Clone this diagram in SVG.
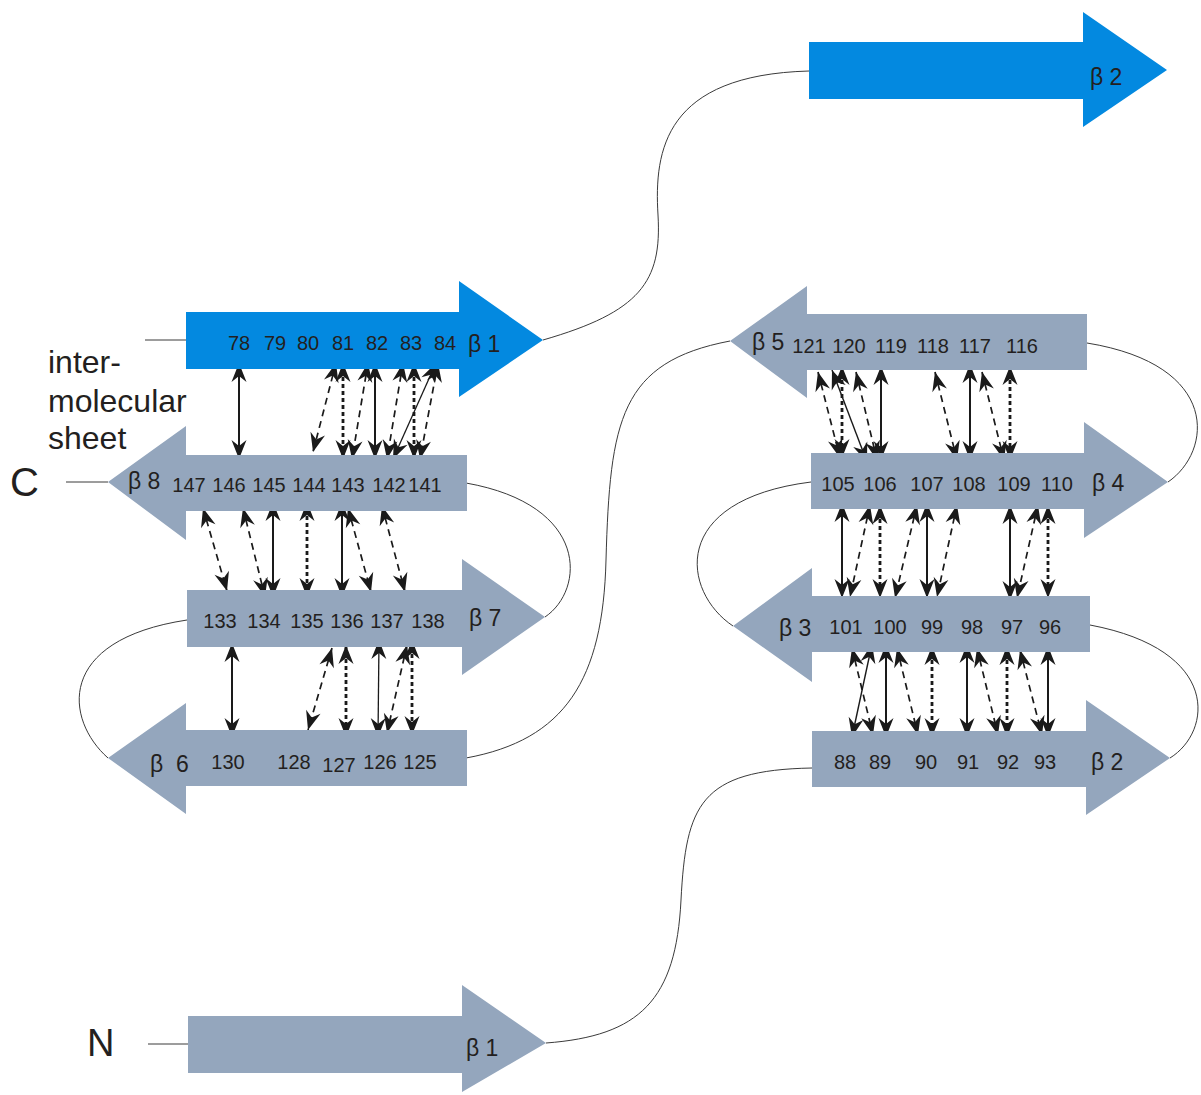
<svg xmlns="http://www.w3.org/2000/svg" width="1201" height="1095" viewBox="0 0 1201 1095">
  <style>
    .blue { fill: #0389e0; }
    .grey { fill: #94a6bd; }
    .num { font-family: "Liberation Sans", Arial, sans-serif; font-size: 20px; fill: #231f20; text-anchor: middle; }
    .lab { font-family: "Liberation Sans", Arial, sans-serif; font-size: 23px; fill: #231f20; }
    .big { font-family: "Liberation Sans", Arial, sans-serif; fill: #231f20; }
    .loop { fill: none; stroke: #3a3a3a; stroke-width: 1; }
    .hb { stroke: #1a1a1a; fill: none; marker-start: url(#ah); marker-end: url(#ah); }
    .solid { stroke-width: 2; }
    .dash { stroke-width: 1.7; stroke-dasharray: 7 5; }
    .dot { stroke-width: 2.8; stroke-dasharray: 4 3; }
  </style>
  <defs>
    <!-- swept arrowhead used on both ends of each H-bond -->
    <marker id="ah" markerWidth="22" markerHeight="18" refX="20" refY="9" markerUnits="userSpaceOnUse" orient="auto-start-reverse" overflow="visible">
      <path d="M20,9 L1,1.5 L7,9 L1,16.5 Z" fill="#1a1a1a"/>
    </marker>
  </defs>
  <rect width="1201" height="1095" fill="#ffffff"/>

  <!-- thin backbone loops and termini -->
  <g id="connectors">
    <path class="loop" d="M145,340 L186,340"/>
    <path class="loop" d="M66,482 L108,482"/>
    <path class="loop" d="M148,1044 L188,1044"/>
    <path class="loop" d="M543,340 C640,312 662,282 658,215 C654,150 665,75 809,71"/>
    <path class="loop" d="M466,483 C590,505 585,590 545,617"/>
    <path class="loop" d="M187,620 C55,640 65,720 108,758"/>
    <path class="loop" d="M466,758 C565,740 603,680 606,560 C610,420 620,362 730,341"/>
    <path class="loop" d="M1087,343 C1222,365 1212,452 1168,482"/>
    <path class="loop" d="M811,482 C668,500 682,592 733,626"/>
    <path class="loop" d="M1090,625 C1222,650 1212,732 1170,758"/>
    <path class="loop" d="M812,768 C700,770 686,805 681,900 C676,1000 640,1036 546,1043"/>

    <!-- beta1' / beta8 -->
    <line class="hb solid" x1="239" y1="363" x2="239" y2="459"/>
    <line class="hb dash" x1="336" y1="363" x2="313" y2="452"/>
    <line class="hb dot" x1="343" y1="363" x2="343" y2="459"/>
    <line class="hb dash" x1="368" y1="363" x2="352" y2="459"/>
    <line class="hb solid" x1="375" y1="363" x2="375" y2="459"/>
    <line class="hb dash" x1="403" y1="363" x2="387" y2="459"/>
    <line class="hb solid" x1="436" y1="363" x2="393" y2="459" style="stroke-width:1.3"/>
    <line class="hb dot" x1="414" y1="363" x2="414" y2="459"/>
    <line class="hb dash" x1="438" y1="363" x2="420" y2="459"/>

    <!-- beta8 / beta7 -->
    <line class="hb dash" x1="203" y1="508" x2="227" y2="591"/>
    <line class="hb dash" x1="243" y1="508" x2="265" y2="597"/>
    <line class="hb solid" x1="273" y1="502" x2="273" y2="597"/>
    <line class="hb dot" x1="307" y1="502" x2="307" y2="597"/>
    <line class="hb solid" x1="342" y1="502" x2="342" y2="597"/>
    <line class="hb dash" x1="348" y1="508" x2="371" y2="592"/>
    <line class="hb dash" x1="382" y1="506" x2="405" y2="592"/>

    <!-- beta7 / beta6 -->
    <line class="hb solid" x1="232" y1="643" x2="232" y2="737"/>
    <line class="hb dash" x1="332" y1="648" x2="308" y2="730"/>
    <line class="hb dot" x1="346" y1="645" x2="346" y2="737"/>
    <line class="hb solid" x1="379" y1="640" x2="378" y2="737" style="stroke-width:1.3"/>
    <line class="hb dash" x1="407" y1="645" x2="387" y2="733"/>
    <line class="hb dot" x1="412" y1="640" x2="412" y2="735"/>

    <!-- beta5 / beta4 -->
    <line class="hb dash" x1="818" y1="372" x2="840" y2="458"/>
    <line class="hb dot" x1="842" y1="366" x2="842" y2="458"/>
    <line class="hb solid" x1="832" y1="370" x2="867" y2="462" style="stroke-width:1.4"/>
    <line class="hb dash" x1="856" y1="372" x2="877" y2="460"/>
    <line class="hb solid" x1="881" y1="366" x2="881" y2="460"/>
    <line class="hb dash" x1="935" y1="372" x2="957" y2="460"/>
    <line class="hb solid" x1="970" y1="364" x2="970" y2="460"/>
    <line class="hb dash" x1="982" y1="372" x2="1004" y2="460"/>
    <line class="hb dot" x1="1010" y1="366" x2="1010" y2="460"/>

    <!-- beta4 / beta3 -->
    <line class="hb solid" x1="842" y1="503" x2="842" y2="598"/>
    <line class="hb dash" x1="870" y1="505" x2="850" y2="597"/>
    <line class="hb dot" x1="880" y1="505" x2="880" y2="598"/>
    <line class="hb dash" x1="917" y1="505" x2="895" y2="598"/>
    <line class="hb solid" x1="927" y1="503" x2="927" y2="598"/>
    <line class="hb dash" x1="957" y1="505" x2="937" y2="597"/>
    <line class="hb solid" x1="1010" y1="505" x2="1010" y2="600"/>
    <line class="hb dash" x1="1038" y1="505" x2="1017" y2="598"/>
    <line class="hb dot" x1="1048" y1="505" x2="1048" y2="598"/>

    <!-- beta3 / beta2 -->
    <line class="hb dash" x1="852" y1="648" x2="873" y2="735"/>
    <line class="hb solid" x1="872" y1="644" x2="852" y2="737" style="stroke-width:1.4"/>
    <line class="hb solid" x1="886" y1="644" x2="886" y2="737"/>
    <line class="hb dash" x1="897" y1="648" x2="918" y2="735"/>
    <line class="hb dot" x1="932" y1="646" x2="932" y2="737"/>
    <line class="hb solid" x1="967" y1="644" x2="967" y2="737"/>
    <line class="hb dash" x1="977" y1="648" x2="998" y2="735"/>
    <line class="hb dot" x1="1007" y1="646" x2="1007" y2="737"/>
    <line class="hb dash" x1="1020" y1="650" x2="1042" y2="735"/>
    <line class="hb solid" x1="1048" y1="646" x2="1048" y2="737"/>
  </g>

  <!-- second molecule strand beta2 (top) -->
  <g id="strand-b2-top">
    <path class="blue" d="M809,42 L1083,42 L1083,12 L1167,70 L1083,127 L1083,99 L809,99 Z"/>
    <text class="lab" x="1090" y="85">β 2</text>
  </g>

  <!-- second molecule strand beta1 -->
  <g id="strand-b1-top">
    <path class="blue" d="M186,312 L459,312 L459,281 L543,340 L459,397 L459,369 L186,369 Z"/>
    <text class="num" x="239" y="350">78</text>
    <text class="num" x="275" y="350">79</text>
    <text class="num" x="308" y="350">80</text>
    <text class="num" x="343" y="350">81</text>
    <text class="num" x="377" y="350">82</text>
    <text class="num" x="411" y="350">83</text>
    <text class="num" x="445" y="350">84</text>
    <text class="lab" x="468" y="352">β 1</text>
  </g>

  <g id="strand-b8">
    <path class="grey" d="M467,455 L186,455 L186,426 L108,482 L186,540 L186,511 L467,511 Z"/>
    <text class="lab" x="128" y="489">β 8</text>
    <text class="num" x="189" y="492">147</text>
    <text class="num" x="229" y="492">146</text>
    <text class="num" x="269" y="492">145</text>
    <text class="num" x="309" y="492">144</text>
    <text class="num" x="348" y="492">143</text>
    <text class="num" x="389" y="492">142</text>
    <text class="num" x="425" y="492">141</text>
  </g>

  <g id="strand-b7">
    <path class="grey" d="M187,590 L462,590 L462,559 L545,617 L462,675 L462,647 L187,647 Z"/>
    <text class="num" x="220" y="628">133</text>
    <text class="num" x="264" y="628">134</text>
    <text class="num" x="307" y="628">135</text>
    <text class="num" x="347" y="628">136</text>
    <text class="num" x="387" y="628">137</text>
    <text class="num" x="428" y="628">138</text>
    <text class="lab" x="469" y="626">β 7</text>
  </g>

  <g id="strand-b6">
    <path class="grey" d="M467,730 L186,730 L186,703 L108,758 L186,814 L186,786 L467,786 Z"/>
    <text class="lab" x="150" y="772" xml:space="preserve">β  6</text>
    <text class="num" x="228" y="769">130</text>
    <text class="num" x="294" y="769">128</text>
    <text class="num" x="339" y="772">127</text>
    <text class="num" x="380" y="769">126</text>
    <text class="num" x="420" y="769">125</text>
  </g>

  <g id="strand-b5">
    <path class="grey" d="M1087,314 L807,314 L807,286 L730,341 L807,398 L807,370 L1087,370 Z"/>
    <text class="lab" x="752" y="350">β 5</text>
    <text class="num" x="809" y="353">121</text>
    <text class="num" x="849" y="353">120</text>
    <text class="num" x="891" y="353">119</text>
    <text class="num" x="933" y="353">118</text>
    <text class="num" x="975" y="353">117</text>
    <text class="num" x="1022" y="353">116</text>
  </g>

  <g id="strand-b4">
    <path class="grey" d="M811,453 L1084,453 L1084,422 L1168,482 L1084,538 L1084,509 L811,509 Z"/>
    <text class="num" x="838" y="491">105</text>
    <text class="num" x="880" y="491">106</text>
    <text class="num" x="927" y="491">107</text>
    <text class="num" x="969" y="491">108</text>
    <text class="num" x="1014" y="491">109</text>
    <text class="num" x="1057" y="491">110</text>
    <text class="lab" x="1092" y="491">β 4</text>
  </g>

  <g id="strand-b3">
    <path class="grey" d="M1090,596 L812,596 L812,568 L733,626 L812,682 L812,652 L1090,652 Z"/>
    <text class="lab" x="779" y="636">β 3</text>
    <text class="num" x="846" y="634">101</text>
    <text class="num" x="890" y="634">100</text>
    <text class="num" x="932" y="634">99</text>
    <text class="num" x="972" y="634">98</text>
    <text class="num" x="1012" y="634">97</text>
    <text class="num" x="1050" y="634">96</text>
  </g>

  <g id="strand-b2">
    <path class="grey" d="M812,731 L1086,731 L1086,700 L1170,758 L1086,815 L1086,787 L812,787 Z"/>
    <text class="num" x="845" y="769">88</text>
    <text class="num" x="880" y="769">89</text>
    <text class="num" x="926" y="769">90</text>
    <text class="num" x="968" y="769">91</text>
    <text class="num" x="1008" y="769">92</text>
    <text class="num" x="1045" y="769">93</text>
    <text class="lab" x="1091" y="770">β 2</text>
  </g>

  <g id="strand-b1">
    <path class="grey" d="M188,1016 L462,1016 L462,985 L546,1043 L462,1092 L462,1073 L188,1073 Z"/>
    <text class="lab" x="466" y="1056">β 1</text>
  </g>

  <g id="labels">
    <text class="big" x="48" y="373" font-size="32">inter-</text>
    <text class="big" x="48" y="412" font-size="32">molecular</text>
    <text class="big" x="48" y="449" font-size="32">sheet</text>
    <text class="big" x="10" y="496" font-size="40">C</text>
    <text class="big" x="87" y="1056" font-size="38">N</text>
  </g>
</svg>
